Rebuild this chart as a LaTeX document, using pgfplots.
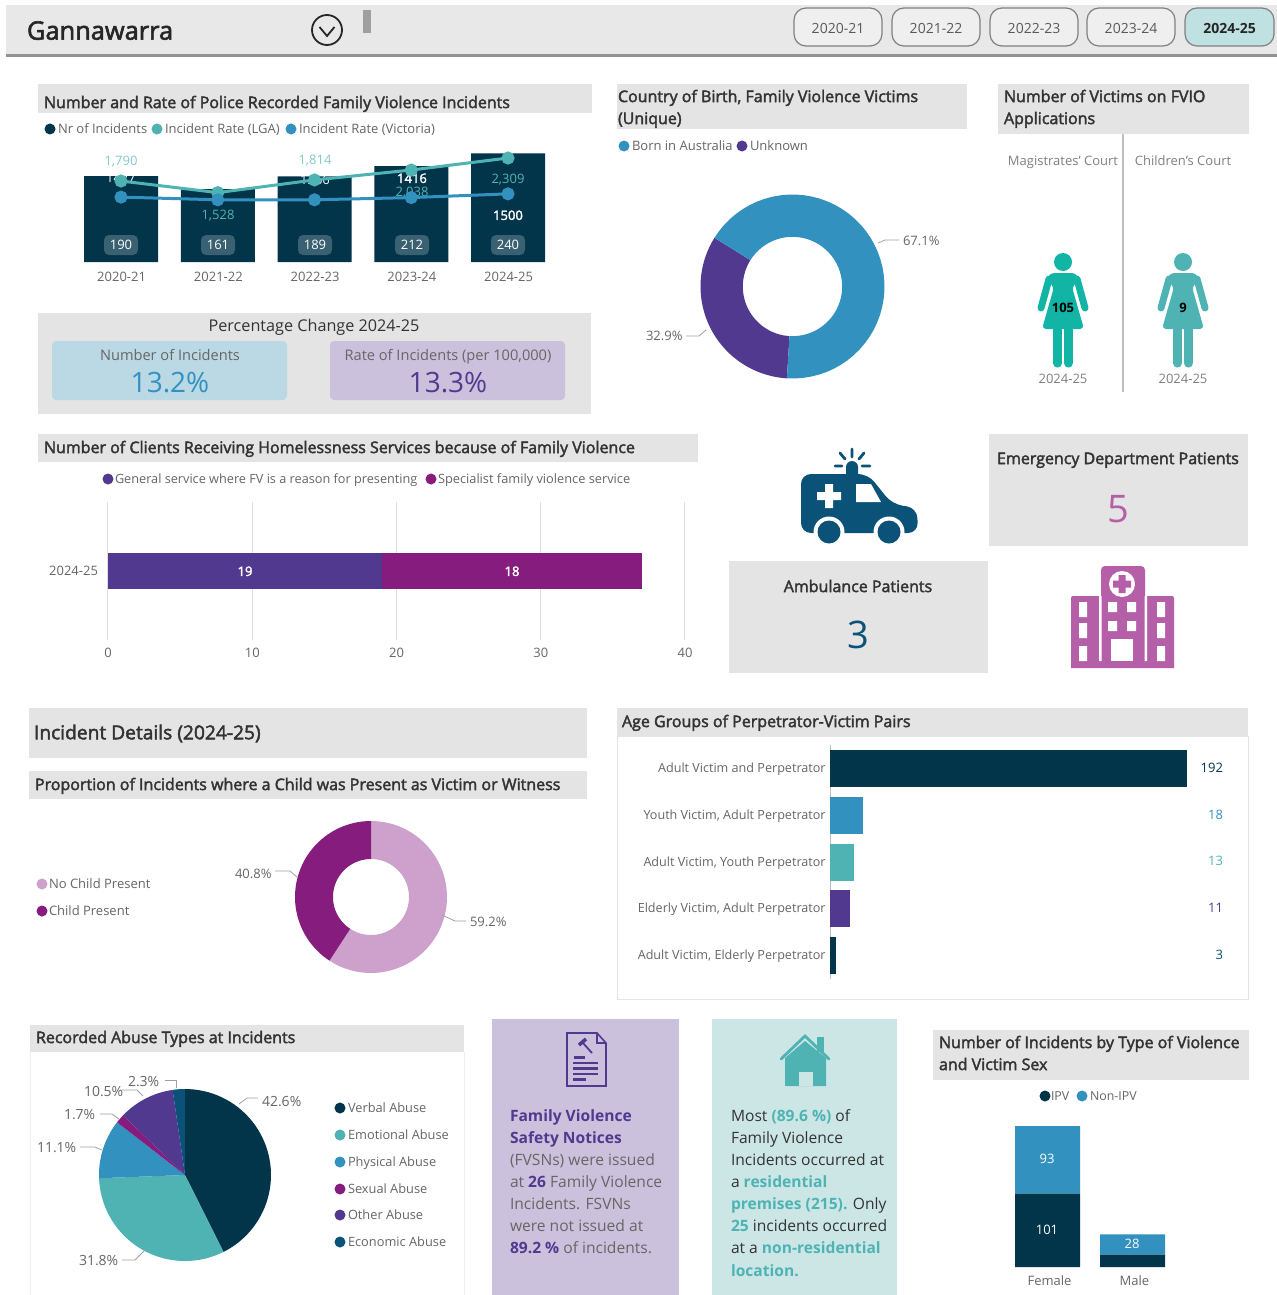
\documentclass[border=0pt]{standalone}
\usepackage{pgfplots}
\pgfplotsset{compat=1.18}
\usepackage{fontspec}
\setmainfont{Open Sans}
\newfontfamily\semib[FakeBold=2.4]{Open Sans}
\definecolor{cNavy}{HTML}{02344A}
\definecolor{cTeal}{HTML}{4FB3B3}
\definecolor{cBlue}{HTML}{3391C0}
\definecolor{cPurple}{HTML}{51398F}
\definecolor{cMag}{HTML}{861C7E}
\definecolor{cPale}{HTML}{CDA1CC}
\definecolor{cEcon}{HTML}{0B5279}
\definecolor{cPink}{HTML}{B55FA8}
\definecolor{cPanel}{HTML}{E4E4E4}
\definecolor{cLBlue}{HTML}{BBD8E5}
\definecolor{cLPurple}{HTML}{CBC1DC}
\definecolor{cLTeal}{HTML}{CCE6E6}
\definecolor{cFig}{HTML}{12B5A5}
\definecolor{cGrey}{HTML}{666666}
\definecolor{cDark}{HTML}{333333}
\definecolor{cLead}{HTML}{A0A0A0}
\newcommand\fs[1]{\fontsize{#1}{#1}\selectfont}
% text helpers: x y size(pt) colour text  (pixel coordinates)
\tikzset{tt/.style={inner sep=0pt,outer sep=0pt,text height=#1*0.76pt,text depth=0pt}}
\newcommand\TL[5]{\node[tt=#3,anchor=west,text=#4,font=\fs{#3}] at (#1,#2) {#5};}
\newcommand\TC[5]{\node[tt=#3,anchor=center,text=#4,font=\fs{#3}] at (#1,#2) {#5};}
\newcommand\TR[5]{\node[tt=#3,anchor=east,text=#4,font=\fs{#3}] at (#1,#2) {#5};}
\newcommand\Dt[3]{\fill[#3] (#1,#2) circle (5.5);}
\newcommand\Bx[5]{\fill[#5] (#1,#2) rectangle (#3,#4);}
\pgfplotsset{place/.style n args={4}{at={(#1*0.5pt,-#2*0.5pt-#4*0.5pt)},anchor=south west,width=#3*0.5pt,height=#4*0.5pt,scale only axis,clip=false},
 bare/.style={axis line style={draw=none},major tick length=0pt,tick label style={font=\fs{6.5},text=cGrey},/pgf/number format/assume math mode=true}}
% pie helpers
\newcommand\pieslice[5]{%
 \gdef\pts{}%
 \foreach \ii in {0,...,48}{%
  \pgfmathsetmacro\aang{90-(#3+(#4-#3)*\ii/48)}%
  \pgfmathsetmacro\xx{#2*cos(\aang)}\pgfmathsetmacro\yy{#2*sin(\aang)}%
  \xdef\pts{\pts (\xx,\yy)}}%
 \foreach \ii in {48,...,0}{%
  \pgfmathsetmacro\aang{90-(#3+(#4-#3)*\ii/48)}%
  \pgfmathsetmacro\xx{#1*cos(\aang)}\pgfmathsetmacro\yy{#1*sin(\aang)}%
  \xdef\pts{\pts (\xx,\yy)}}%
 \edef\tmp{\noexpand\addplot[fill=#5,draw=none,forget plot] coordinates {\pts};}\tmp}
\newcommand\pie[4]{\gdef\cum{#3}%
 \foreach \vv/\cc in {#4}{\pgfmathsetmacro\eend{\cum+\vv*3.6}%
  \pieslice{#1}{#2}{\cum}{\eend}{\cc}\global\let\cum\eend}}
\pgfplotsset{pieax/.style={hide axis,xmin=-1,xmax=1,ymin=-1,ymax=1}}
\newcommand\Woman[3]{%
 \fill[#3] (#1,#2) circle (9);
 \begin{scope}[shift={(#1,0)}]
 \draw[#3,line width=3.5pt,line cap=round] (-14,279) -- (-22,308);
 \draw[#3,line width=3.5pt,line cap=round] (14,279) -- (22,308);
 \fill[#3,rounded corners=2] (-13,273) -- (13,273) -- (16,280) -- (9,287) -- (21,329) -- (-21,329) -- (-9,287) -- (-16,280) -- cycle;
 \draw[#3,line width=4.6pt,line cap=round] (-5.5,325) -- (-5.5,363);
 \draw[#3,line width=4.6pt,line cap=round] (5.5,325) -- (5.5,363);
 \end{scope}}
\begin{document}
\begin{tikzpicture}
\begin{scope}[x=.5pt,y=-.5pt]
\path[use as bounding box,fill=white] (0,0) rectangle (1277,1295);
% header
\Bx{6}{5}{1277}{55}{cPanel!85!white}
\fill[gray!85] (6,54.5) rectangle (1277,57);
\TL{27}{30}{12.7}{black!85}{\semib Gannawarra}
\draw[black!85,line width=.9pt] (327,30) circle (15);
\draw[black!85,line width=.9pt] (319.5,27) -- (327,36) -- (334.5,27);
\Bx{363}{10}{371}{33}{gray!75}
\foreach \bx/\lab in {794/2020-21,892/2021-22,990/2022-23,1087/2023-24}{
 \draw[gray,line width=.6pt,rounded corners=6pt,fill=cPanel!60!white] (\bx,8) rectangle (\bx+88,46);
 \TC{\bx+44}{28}{7}{black!65}{\lab}}
\draw[gray,line width=.6pt,rounded corners=6pt,fill=cLTeal!90!cTeal] (1185,8) rectangle (1274,46);
\TC{1229.5}{28}{7}{black!85}{\bfseries 2024-25}
% titles
\Bx{38}{84}{592}{113}{cPanel}
\TL{44}{102}{8}{cDark}{\semib Number and Rate of Police Recorded Family Violence Incidents}
\Dt{50}{129}{cNavy}\TL{58}{129}{6.5}{cGrey}{Nr of Incidents}
\Dt{157}{129}{cTeal}\TL{165}{129}{6.5}{cGrey}{Incident Rate (LGA)}
\Dt{291}{129}{cBlue}\TL{299}{129}{6.5}{cGrey}{Incident Rate (Victoria)}
\Bx{617}{84}{967}{129}{cPanel}
\TL{618}{96}{8}{cDark}{\semib Country of Birth, Family Violence Victims}
\TL{618}{118}{8}{cDark}{\semib (Unique)}
\Dt{624}{146}{cBlue}\TL{632}{146}{6.5}{cGrey}{Born in Australia}
\Dt{742}{146}{cPurple}\TL{750}{146}{6.5}{cGrey}{Unknown}
\Bx{998}{84}{1249}{134}{cPanel}
\TL{1004}{96}{8}{cDark}{\semib Number of Victims on FVIO}
\TL{1004}{118}{8}{cDark}{\semib Applications}
% percentage change
\Bx{38}{313}{591}{414}{cPanel}
\TC{314}{325}{8.1}{cDark}{Percentage Change 2024-25}
\fill[cLBlue,rounded corners=2pt] (52,341) rectangle (287,400);
\fill[cLPurple,rounded corners=2pt] (330,341) rectangle (565,400);
\TC{170}{355}{7.3}{cGrey}{Number of Incidents}
\TC{170}{382}{14}{cBlue}{13.2\%}
\TC{448}{355}{7.3}{cGrey}{Rate of Incidents (per 100,000)}
\TC{448}{382}{14}{cPurple}{13.3\%}
% FVIO
\draw[gray!50,line width=.8pt] (1123,134) -- (1123,392);
\TC{1063}{161}{6.5}{gray}{Magistrates' Court}
\TC{1183}{161}{6.5}{gray}{Children's Court}
\Woman{1063}{262}{cFig}
\Woman{1183}{262}{cTeal}
\TC{1063}{308}{6.5}{black}{\bfseries 105}
\TC{1183}{308}{6.5}{black}{\bfseries 9}
\TC{1063}{379}{6.5}{gray}{2024-25}
\TC{1183}{379}{6.5}{gray}{2024-25}
% homelessness
\Bx{38}{434}{698}{462}{cPanel}
\TL{44}{447}{8}{cDark}{\semib Number of Clients Receiving Homelessness Services because of Family Violence}
\Dt{108}{479}{cPurple}\TL{115}{479}{6.35}{cGrey}{General service where FV is a reason for presenting}
\Dt{431}{479}{cMag}\TL{438}{479}{6.4}{cGrey}{Specialist family violence service}
% ambulance
\fill[cEcon,rounded corners=5pt] (801,474) -- (868,474) -- (892,504) -- (917,508) -- (918,533) -- (801,533) -- cycle;
\fill[white] (829,532) circle (15.5) (889,532) circle (15.5);
\fill[cEcon] (829,532) circle (11.5) (889,532) circle (11.5);
\fill[white] (817,492) rectangle (841,500) (825,484) rectangle (833,508);
\fill[white] (856,484) -- (871,484) -- (881,502) -- (856,502) -- cycle;
\fill[cEcon] (846,474) -- (846,467) arc (180:360:6) -- (858,474) -- cycle;
\draw[cEcon,line width=1.4pt,line cap=round] (852,449) -- (852,457) (840,453) -- (845,459) (864,453) -- (859,459) (835,466) -- (842,466) (862,466) -- (870,466);
% ED / ambulance boxes
\Bx{989}{434}{1248}{546}{cPanel}
\TC{1118}{458}{8}{cDark}{\semib Emergency Department Patients}
\TC{1118}{508}{19}{cPink}{5}
\Bx{729}{561}{988}{673}{cPanel}
\TC{858}{586}{8}{cDark}{\semib Ambulance Patients}
\TC{858}{634}{19}{cEcon}{3}
% hospital
\fill[cPink] (1101,570) arc (180:270:4) -- (1141,566) arc (270:360:4) -- (1145,596) -- (1172,596) arc (270:360:2) -- (1174,668) -- (1071,668) -- (1071,598) arc (180:270:2) -- (1101,596) -- cycle;
\fill[white] (1122,584) circle (13);
\fill[cPink] (1118.5,575) rectangle (1125.5,593) (1113,580.5) rectangle (1131,587.5);
\fill[white] (1099,596) rectangle (1101.5,661) (1144.5,596) rectangle (1147,661);
\foreach \wy in {607,626}{\fill[white] (1108,\wy-5) rectangle (1117,\wy+5) (1127,\wy-5) rectangle (1136,\wy+5);}
\fill[white] (1111,639) rectangle (1133,661);
\foreach \wy in {602,623,646}{\fill[white] (1079,\wy) rectangle (1087,\wy+15) (1157,\wy) rectangle (1165,\wy+15);}
% incident details
\Bx{29}{708}{587}{758}{cPanel}
\TL{34}{732}{9.6}{cDark}{\semib Incident Details (2024-25)}
\Bx{29}{771}{587}{799}{cPanel}
\TL{35}{784}{8}{cDark}{\semib Proportion of Incidents where a Child was Present as Victim or Witness}
\Dt{42}{884}{cPale}\TL{49}{884}{6.5}{cGrey}{No Child Present}
\Dt{42}{911}{cMag}\TL{49}{911}{6.5}{cGrey}{Child Present}
% age groups
\draw[cPanel,line width=.5pt] (617,736) rectangle (1248,999);
\Bx{617}{708}{1248}{736}{cPanel}
\TL{622}{721}{8}{cDark}{\semib Age Groups of Perpetrator-Victim Pairs}
% abuse
\draw[cPanel!60!white,line width=.5pt] (30,1052) -- (30,1295) (464,1052) -- (464,1295);
\Bx{30}{1025}{464}{1052}{cPanel}
\TL{36}{1037}{8}{cDark}{\semib Recorded Abuse Types at Incidents}
\foreach \ly/\lc/\lname in {1108/cNavy/Verbal Abuse,1135/cTeal/Emotional Abuse,1162/cBlue/Physical Abuse,1189/cMag/Sexual Abuse,1215/cPurple/Other Abuse,1242/cEcon/Economic Abuse}{
 \Dt{340}{\ly}{\lc}\TL{348}{\ly}{6.4}{cGrey}{\lname}}
% FVSN box
\Bx{492}{1019}{679}{1295}{cLPurple}
\draw[cPurple,line width=.8pt,fill=cLPurple] (567,1033) -- (597,1033) -- (606,1043) -- (606,1086) -- (567,1086) -- cycle;
\draw[cPurple,line width=.6pt] (597,1033) -- (597,1043) -- (606,1043);
\draw[cPurple,line width=1.2pt] (573,1063) -- (598,1063) (573,1068.5) -- (598,1068.5) (573,1074) -- (598,1074) (573,1079.5) -- (586,1079.5);
\draw[cPurple,line width=1.3pt] (574,1057.5) -- (585,1057.5);
\draw[cPurple,line width=1.8pt] (579,1045) -- (586,1039);
\draw[cPurple,line width=.9pt] (583,1043) -- (592,1053);
\TL{510}{1116}{7.8}{cPurple}{\bfseries Family Violence}
\TL{510}{1138}{7.8}{cPurple}{\bfseries Safety Notices}
\TL{510}{1160}{7.8}{cGrey}{(FVSNs) were issued}
\TL{510}{1182}{7.8}{cGrey}{at \textcolor{cPurple}{\bfseries 26} Family Violence}
\TL{510}{1204}{7.8}{cGrey}{Incidents. FSVNs}
\TL{510}{1226}{7.8}{cGrey}{were not issued at}
\TL{510}{1248}{7.8}{cGrey}{\textcolor{cPurple}{\bfseries 89.2 \%} of incidents.}
% residential box
\Bx{712}{1019}{897}{1295}{cLTeal}
\fill[cTeal] (785,1086) -- (785,1058) -- (805,1041) -- (826,1058) -- (826,1086) -- cycle;
\fill[cTeal] (817,1037) rectangle (824,1052);
\draw[cTeal,line width=1.4pt,line cap=round] (781,1059) -- (805,1036) -- (829,1059);
\fill[cLTeal] (799,1072) rectangle (813,1086);
\TL{731}{1116}{7.8}{cDark}{Most \textcolor{cTeal}{\bfseries (89.6 \%)} of}
\TL{731}{1138}{7.8}{cDark}{Family Violence}
\TL{731}{1160}{7.8}{cDark}{Incidents occurred at}
\TL{731}{1182}{7.8}{cDark}{a \textcolor{cTeal}{\bfseries residential}}
\TL{731}{1204}{7.8}{cDark}{\textcolor{cTeal}{\bfseries premises (215).} Only}
\TL{731}{1226}{7.8}{cDark}{\textcolor{cTeal}{\bfseries 25} incidents occurred}
\TL{731}{1248}{7.8}{cDark}{at a \textcolor{cTeal}{\bfseries non-residential}}
\TL{731}{1271}{7.8}{cTeal}{\bfseries location.}
% sex chart header
\Bx{933}{1030}{1249}{1080}{cPanel}
\TL{939}{1042}{8}{cDark}{\semib Number of Incidents by Type of Violence}
\TL{939}{1064}{8}{cDark}{\semib and Victim Sex}
\Dt{1045}{1096}{cNavy}\TL{1051}{1096}{6.2}{cGrey}{IPV}
\Dt{1082}{1096}{cBlue}\TL{1090}{1096}{6.2}{cGrey}{Non-IPV}
\end{scope}

% ---- combo chart: bars
\begin{axis}[place={72}{150}{485}{112},bare,ybar,bar width=37pt,
 xmin=-0.5065,xmax=4.5065,ymin=0,ymax=247.5,xtick=data,
 xticklabels={2020-21,2021-22,2022-23,2023-24,2024-25},ytick=\empty,
 xticklabel style={yshift=-1.5pt,xshift=.3pt}]
\addplot[fill=cNavy,draw=none] coordinates {(0,190)(1,161)(2,189)(3,212)(4,240)};
\end{axis}
\begin{scope}[x=.5pt,y=-.5pt]
\foreach \bx/\bval in {121/190,218/161,315/189,412/212,508/240}{
 \fill[white!22!cNavy,rounded corners=2.5pt] (\bx-17,235) rectangle (\bx+17,255);
 \TC{\bx}{245}{6.5}{white}{\bval}}
\TC{121}{178}{6.5}{white}{1427}
\TC{315}{180}{6.5}{white}{1366}
\TC{412}{178}{6.5}{white}{\semib 1416}
\TC{508}{215}{6.5}{white}{\semib 1500}
\TC{121}{161}{6.5}{cTeal!70!white}{1,790}
\TC{218}{215}{6.5}{cTeal}{1,528}
\TC{315}{160}{6.5}{cTeal!70!white}{1,814}
\TC{412}{192}{6.5}{cTeal}{2,038}
\TC{508}{179}{6.5}{cTeal}{2,309}
\end{scope}
% ---- combo chart: lines
\begin{axis}[place={72}{150}{485}{112},hide axis,
 xmin=-0.5065,xmax=4.5065,ymin=-38,ymax=2490]
\addplot[cTeal,line width=1.5pt,mark=*,mark size=2.5pt] coordinates {(0,1790)(1,1528)(2,1814)(3,2038)(4,2309)};
\addplot[cBlue,line width=1.5pt,mark=*,mark size=2.5pt] coordinates {(0,1427)(1,1366)(2,1366)(3,1416)(4,1500)};
\end{axis}
% ---- country donut
\begin{axis}[place={700.5}{194.5}{184}{184},pieax]
\pie{0.54}{1}{183.5}{32.9/cPurple,67.1/cBlue}
\end{axis}
% ---- homelessness stacked
\begin{axis}[place={108}{502}{577}{138},bare,xbar stacked,bar width=18pt,
 xmin=0,xmax=40,ymin=-1,ymax=1,xtick={0,10,20,30,40},ytick={0},yticklabels={2024-25},
 xmajorgrids,grid style={gray!25,line width=.5pt},
 xticklabel style={yshift=-.5pt},yticklabel style={xshift=-1.5pt}]
\addplot[fill=cPurple,draw=none] coordinates {(19,0)};
\addplot[fill=cMag,draw=none] coordinates {(18,0)};
\end{axis}
% ---- child donut
\begin{axis}[place={295}{821}{152}{152},pieax]
\pie{0.5}{1}{0}{59.2/cPale,40.8/cMag}
\end{axis}
% ---- age groups
\begin{axis}[place={830}{745.2}{357}{233.8},xbar,bar width=18.5pt,y dir=reverse,
 xmin=0,xmax=192,ymin=-0.5,ymax=4.5,axis x line=none,axis y line=left,
 axis line style={draw=gray!50,-},major tick length=0pt,xtick=\empty,ytick={0,1,2,3,4},
 yticklabels={Adult Victim and Perpetrator,{Youth Victim, Adult Perpetrator},{Adult Victim, Youth Perpetrator},{Elderly Victim, Adult Perpetrator},{Adult Victim, Elderly Perpetrator}},
 yticklabel style={font=\fs{6.3},text=cGrey,inner sep=2pt,yshift=-.4pt}]
\addplot[fill=cNavy,draw=none,bar shift=0pt] coordinates {(192,0)};
\addplot[fill=cBlue,draw=none,bar shift=0pt] coordinates {(18,1)};
\addplot[fill=cTeal,draw=none,bar shift=0pt] coordinates {(13,2)};
\addplot[fill=cPurple,draw=none,bar shift=0pt] coordinates {(11,3)};
\addplot[fill=cNavy,draw=none,bar shift=0pt] coordinates {(3,4)};
\end{axis}
% ---- abuse pie
\begin{axis}[place={99}{1089}{172}{172},pieax]
\pie{0.001}{1}{0}{42.6/cNavy,31.8/cTeal,11.1/cBlue,1.7/cMag,10.5/cPurple,2.3/cEcon}
\end{axis}
% ---- sex columns
\begin{axis}[place={1005}{1126}{170}{141},bare,ybar stacked,bar width=32.5pt,
 xmin=-0.5,xmax=1.5,ymin=0,ymax=194,xtick=data,xticklabels={Female,Male},ytick=\empty,
 xticklabel style={xshift=1pt,yshift=-1pt}]
\addplot[fill=cNavy,draw=none] coordinates {(0,101)(1,17)};
\addplot[fill=cBlue,draw=none] coordinates {(0,93)(1,28)};
\end{axis}
% ---- labels over the axes
\begin{scope}[x=.5pt,y=-.5pt]
\TC{245}{571}{6.5}{white}{\semib 19}
\TC{512}{571}{6.5}{white}{\semib 18}
\draw[cLead,line width=.4pt] (878,243) -- (885,240) -- (899,240);
\TL{903}{241}{6.5}{cGrey}{67.1\%}
\draw[cLead,line width=.4pt] (686,336) -- (699,336) -- (706,330);
\TL{646}{336}{6.5}{cGrey}{32.9\%}
\draw[cLead,line width=.4pt] (275,871) -- (290,871) -- (297,877);
\TL{235}{874}{6.5}{cGrey}{40.8\%}
\draw[cLead,line width=.4pt] (442,915) -- (455,921) -- (466,921);
\TL{470}{922}{6.5}{cGrey}{59.2\%}
\TR{1223}{768}{6.5}{cNavy}{192}
\TR{1223}{815}{6.5}{cBlue}{18}
\TR{1223}{861}{6.5}{cTeal}{13}
\TR{1223}{908}{6.5}{cPurple}{11}
\TR{1223}{955}{6.5}{cEcon}{3}
\draw[cLead,line width=.4pt] (239,1104) -- (247,1098) -- (258,1098);
\TL{262}{1101}{7}{cGrey}{42.6\%}
\draw[cLead,line width=.4pt] (120,1090) -- (137,1090) -- (143,1096);
\TL{84}{1091}{7}{cGrey}{10.5\%}
\draw[cLead,line width=.4pt] (165,1080) -- (176,1080) -- (176,1088);
\TL{128}{1081}{7}{cGrey}{2.3\%}
\draw[cLead,line width=.4pt] (100,1114) -- (112,1114) -- (119,1119);
\TL{64}{1114}{7}{cGrey}{1.7\%}
\draw[cLead,line width=.4pt] (80,1147) -- (95,1147) -- (102,1150);
\TL{37}{1147}{7}{cGrey}{11.1\%}
\draw[cLead,line width=.4pt] (122,1260) -- (135,1260) -- (145,1250);
\TL{79}{1260}{7}{cGrey}{31.8\%}
\TC{1047}{1159}{6.5}{white}{93}
\TC{1047}{1230}{6.5}{white}{101}
\TC{1132}{1244}{6.5}{white}{28}
\end{scope}
\end{tikzpicture}
\end{document}
